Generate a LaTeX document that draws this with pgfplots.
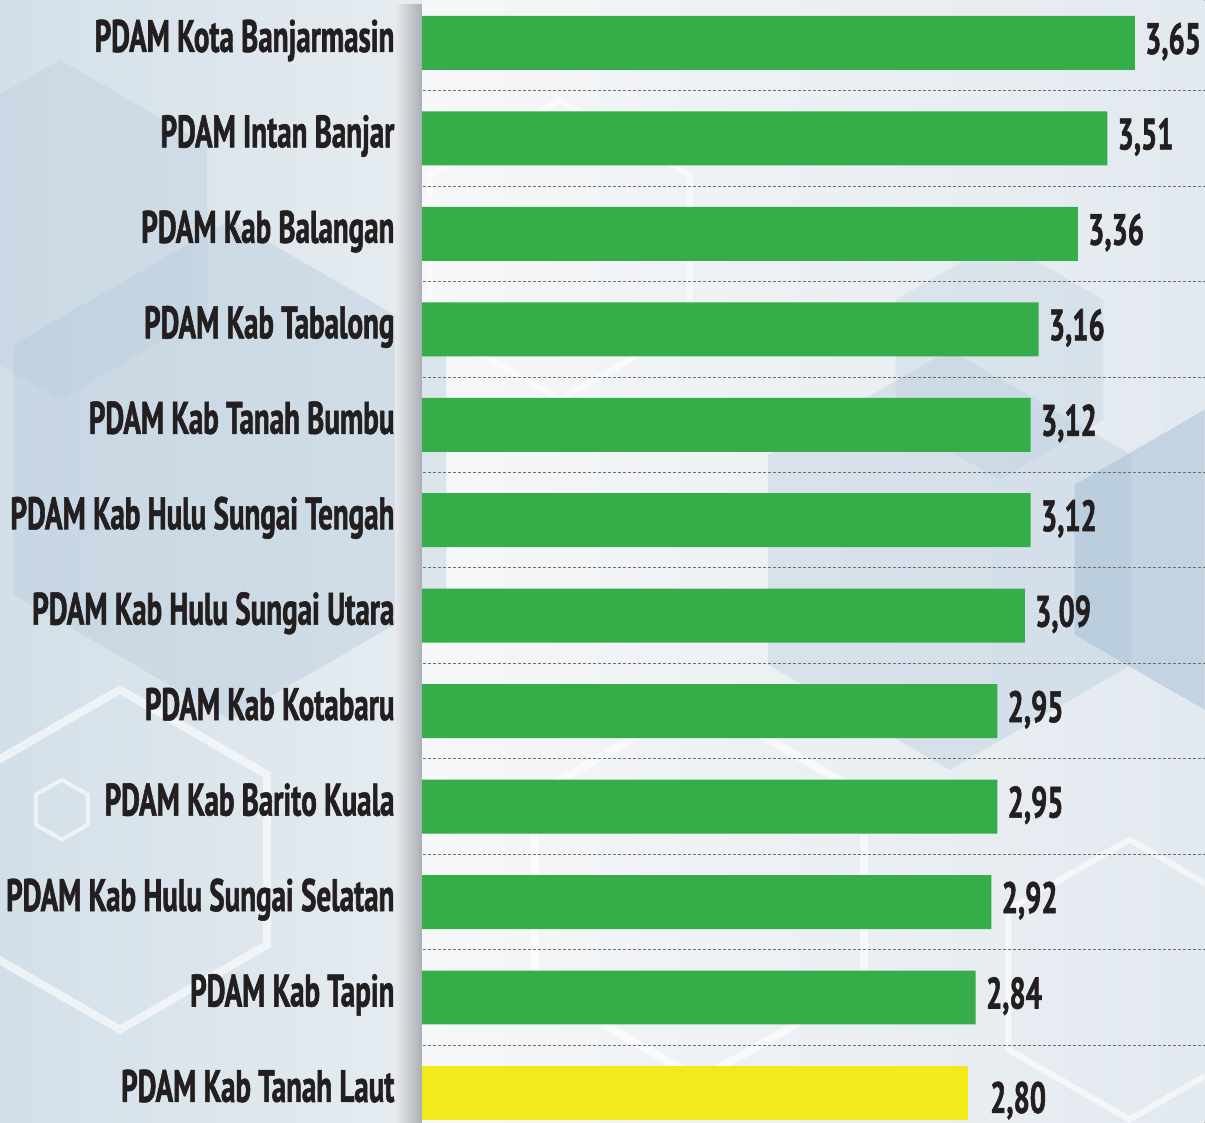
\documentclass[border=0pt]{standalone}
\usepackage{pgfplots}
\pgfplotsset{compat=1.18}
\usepackage{pgfplotstable}
\usepackage{fontspec}
\setmainfont{PT Sans}[FakeStretch=0.636, BoldFeatures={FakeBold=1.2}]
\newfontfamily\valfont{PT Sans}[FakeStretch=0.65, BoldFeatures={FakeBold=1.2}]
\definecolor{barg}{HTML}{35AE4A}
\definecolor{bary}{HTML}{F2EA1A}
\definecolor{txt}{HTML}{231F20}
\definecolor{hexa}{HTML}{B9CDDD}
\definecolor{hexb}{HTML}{A9C1D6}
\definecolor{bgl1}{HTML}{D3DFE8}
\definecolor{bgl2}{HTML}{E6ECF1}
\definecolor{bgr1}{HTML}{F6F7F8}
\definecolor{bgr2}{HTML}{E2E9EF}
\definecolor{dv1}{HTML}{E8EAEC}
\definecolor{dv2}{HTML}{ABAFB5}
\definecolor{grid}{HTML}{6E6E6E}
\pgfplotstableread{
y x lab
0 3.65 3,65
1 3.51 3,51
2 3.36 3,36
3 3.16 3,16
4 3.12 3,12
5 3.12 3,12
6 3.09 3,09
7 2.95 2,95
8 2.95 2,95
9 2.92 2,92
10 2.84 2,84
}\greendata
\pgfplotstableread{
y x lab
11 2.80 2,80
}\yellowdata
\begin{document}
\begin{tikzpicture}
\begin{scope}[x=0.5pt,y=-0.5pt]
\useasboundingbox (0,0) rectangle (1205,1123);
\clip (0,0) rectangle (1205,1123);
\fill[left color=bgl1, right color=bgl2] (0,0) rectangle (422,1123);
\fill[left color=bgr1, right color=bgr2] (422,0) rectangle (1205,1123);
\foreach \cx/\cy/\r/\c/\o in {230/470/250/hexa/0.45, 60/230/170/hexa/0.35, 950/560/210/hexa/0.40, 1205/560/150/hexb/0.55, 1000/360/120/hexa/0.3}{
  \fill[\c, opacity=\o] (\cx,\cy) +(90:\r) -- +(150:\r) -- +(210:\r) -- +(270:\r) -- +(330:\r) -- +(30:\r) -- cycle;
}
\foreach \cx/\cy/\r/\w in {120/860/170/8, 62/810/30/4, 700/890/190/8, 560/250/150/6, 1130/980/140/6}{
  \draw[white, opacity=0.6, line width=\w*0.5pt] (\cx,\cy) +(90:\r) -- +(150:\r) -- +(210:\r) -- +(270:\r) -- +(330:\r) -- +(30:\r) -- cycle;
}
\end{scope}
\begin{axis}[
  at={(209pt,0pt)}, anchor=north west,
  width=393.5pt, height=561.5pt, scale only axis,
  xmin=0, xmax=4.005, ymin=-0.45, ymax=11.31,
  y dir=reverse,
  axis x line=none,
  axis y line*=left,
  y axis line style={draw=none},
  ytick={0,...,11},
  yticklabels={PDAM Kota Banjarmasin\hspace{3.5pt},PDAM Intan Banjar,PDAM Kab Balangan,PDAM Kab Tabalong,PDAM Kab Tanah Bumbu,PDAM Kab Hulu Sungai Tengah,PDAM Kab Hulu Sungai Utara,PDAM Kab Kotabaru,PDAM Kab Barito Kuala,PDAM Kab Hulu Sungai Selatan,PDAM Kab Tapin,PDAM Kab Tanah Laut},
  major tick length=0pt,
  minor ytick={0.5,1.5,...,10.5},
  minor tick length=0pt,
  yminorgrids,
  minor grid style={dash pattern=on 1.5pt off 1pt, line width=0.5pt, color=grid},
  yticklabel style={anchor=base east, inner sep=0pt, xshift=-11.5pt, yshift=-4.5pt, font=\fontsize{22.8}{26}\selectfont\bfseries, text=txt},
  xbar, bar width=27pt, bar shift=0pt,
  clip=false,
  nodes near coords,
  point meta=explicit symbolic,
  every node near coord/.append style={anchor=base west, inner sep=0pt, xshift=5pt, yshift=-5.5pt, font=\valfont\fontsize{22}{26}\selectfont\bfseries, text=txt},
]
\addplot[draw=none, fill=barg] table[x=x, y=y, meta=lab] {\greendata};
\addplot[draw=none, fill=bary, every node near coord/.append style={xshift=6pt, yshift=-4.5pt}] table[x=x, y=y, meta=lab] {\yellowdata};
\end{axis}
\begin{scope}[x=0.5pt,y=-0.5pt]
\shade[left color=dv1, right color=dv2] (395,5) rectangle (422,1123);
\end{scope}
\end{tikzpicture}
\end{document}
